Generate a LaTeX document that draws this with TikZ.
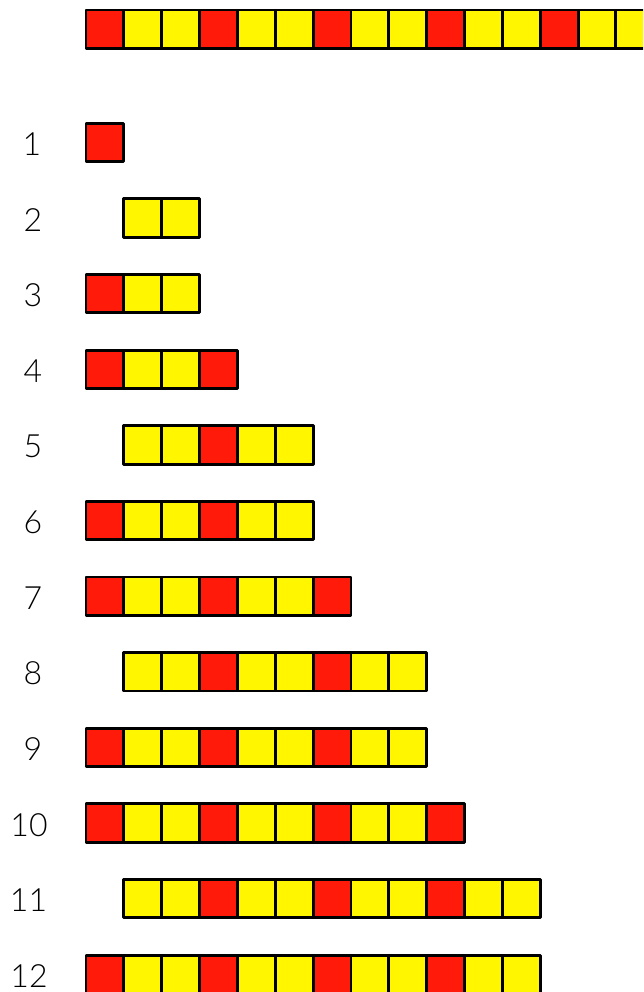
\documentclass[tikz,border=0pt]{standalone}
\usepackage{fontspec}
\setmainfont{Lato}[UprightFont=* Light]
\definecolor{sqred}{RGB}{255,26,10}
\definecolor{sqyel}{RGB}{255,246,0}
\begin{document}
\begin{tikzpicture}[x=1pt,y=-1pt,
  cell/.style={line width=2.9pt,line join=round},
  lab/.style={font=\fontsize{32}{32}\selectfont, anchor=center, inner sep=0pt}]
\useasboundingbox (0,0) rectangle (643,992);
\clip (0,0) rectangle (643,992);
\def\w{37.85}
% top strip
\foreach \k in {0,...,15} {
  \pgfmathtruncatemacro\m{mod(\k,3)}
  \ifnum\m=0 \def\cc{sqred}\else\def\cc{sqyel}\fi
  \filldraw[cell,fill=\cc] (86+\k*\w, 10) rectangle ++(\w,38.3);
}
% numbered rows
\foreach \n/\s/\e/\lx in {1/0/0/32, 2/1/2/33, 3/0/2/33, 4/0/3/33, 5/1/5/33, 6/0/5/33, 7/0/6/33, 8/1/8/33, 9/0/8/33, 10/0/9/29, 11/1/11/28.5, 12/0/11/29} {
  \pgfmathsetmacro\yy{123.3+(\n-1)*75.62}
  \node[lab] (l\n) at (\lx, \yy+21) {\n};
  \foreach \k in {\s,...,\e} {
    \pgfmathtruncatemacro\m{mod(\k,3)}
    \ifnum\m=0 \def\cc{sqred}\else\def\cc{sqyel}\fi
    \filldraw[cell,fill=\cc] (86+\k*\w, \yy) rectangle ++(\w,38.4);
  }
}
\end{tikzpicture}
\end{document}
